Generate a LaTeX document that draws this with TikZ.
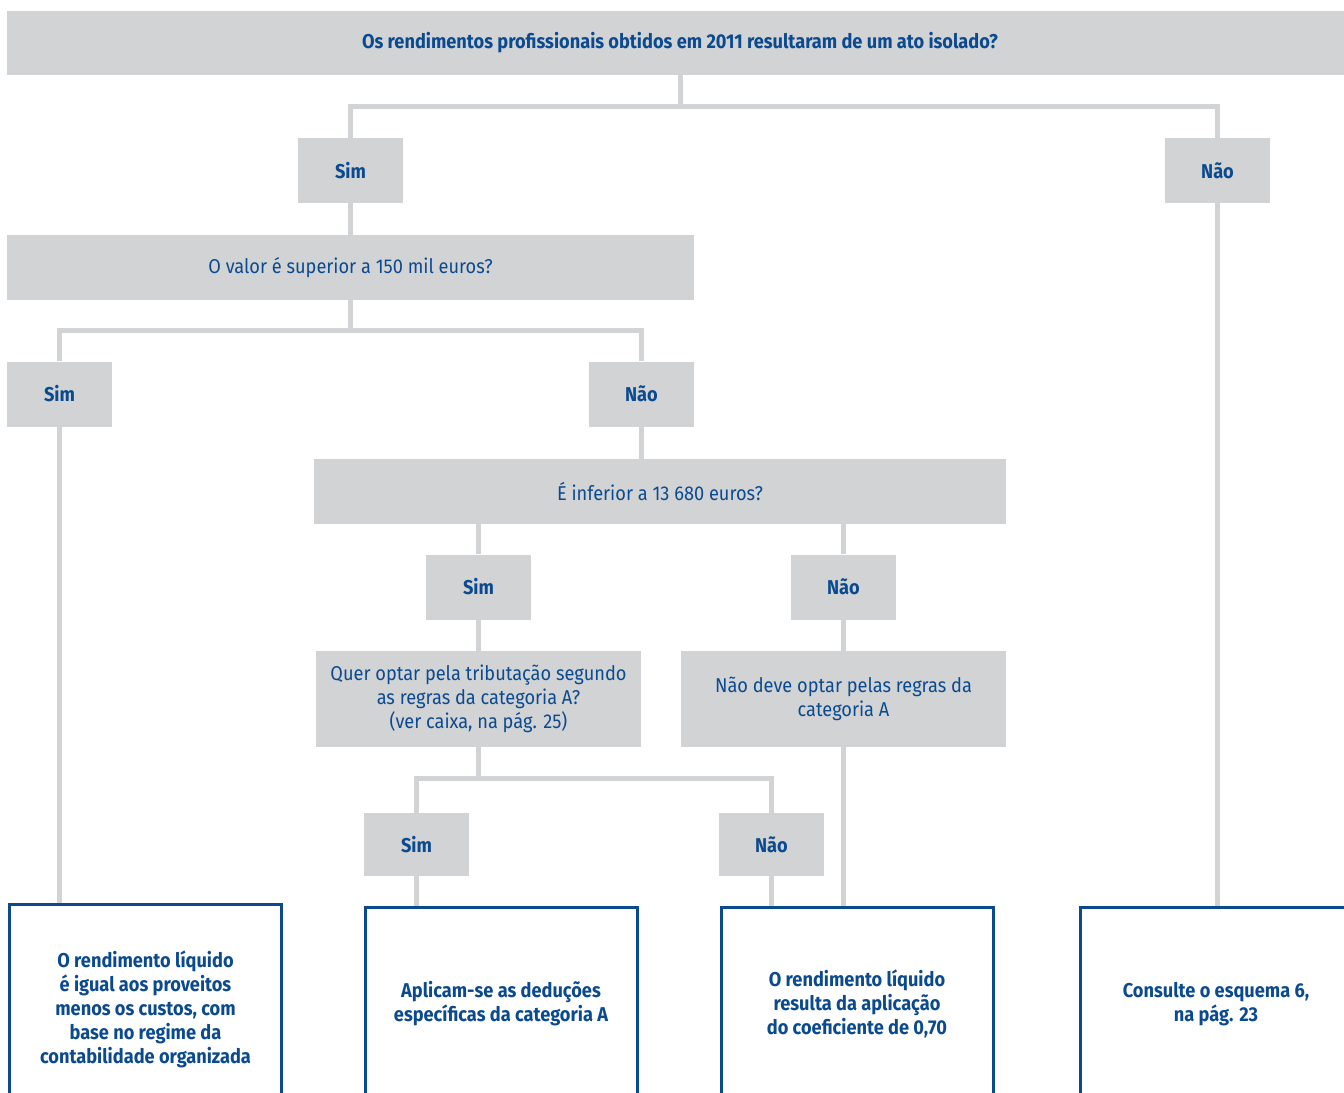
\documentclass[tikz,border=0pt]{standalone}
\usepackage{fontspec}
\setmainfont{Fira Sans}[FakeStretch=0.91]
\usetikzlibrary{backgrounds}
\definecolor{boxgray}{HTML}{D2D3D5}
\definecolor{txtblue}{HTML}{0B4A8F}
\begin{document}
\begin{tikzpicture}[x=0.75pt,y=-0.75pt,
  gbox/.style={fill=boxgray,draw=none,text=txtblue,align=center,inner sep=0pt,
    font=\fontsize{15}{18}\selectfont},
  ans/.style={gbox,font=\fontsize{15}{18}\selectfont\bfseries,minimum width=78.75pt,minimum height=48.75pt},
  endbox/.style={fill=white,draw=txtblue,line width=2.25pt,text=txtblue,align=center,inner sep=0pt,
    font=\fontsize{15}{18}\selectfont\bfseries,minimum width=204pt},
  conn/.style={draw=boxgray,line width=3.75pt,line join=miter}]
\clip (0,0) rectangle (1344,1092);
% question boxes
\node[gbox,font=\fontsize{15}{18}\selectfont\bfseries,minimum width=1009.5pt,minimum height=48pt] (top) at (680,43) {Os rendimentos profissionais obtidos em 2011 resultaram de um ato isolado?};
\node[ans] (sim1) at (350.5,170.5) {Sim};
\node[ans] (nao1) at (1217.5,170.5) {Não};
\node[gbox,minimum width=515.25pt,minimum height=48.75pt] (q2) at (350.5,267.5) {O valor é superior a 150 mil euros?};
\node[ans] (sim2) at (59.5,394) {Sim};
\node[ans] (nao2) at (641.5,394) {Não};
\node[gbox,minimum width=519pt,minimum height=48.75pt] (q3) at (660,491.5) {É inferior a 13 680 euros?};
\node[ans] (sim3) at (478.5,587) {Sim};
\node[ans] (nao3) at (843.5,587) {Não};
\node[gbox,minimum width=243.75pt,minimum height=72pt] (q4) at (478.5,699) {Quer optar pela tributação segundo\\as regras da categoria A?\\(ver caixa, na pág. 25)};
\node[gbox,minimum width=243.75pt,minimum height=72pt] (n4) at (843.5,699) {Não deve optar pelas regras da\\categoria A};
\node[ans,minimum height=47.25pt] (sim5) at (416.5,844.5) {Sim};
\node[ans,minimum height=47.25pt] (nao5) at (771.5,844.5) {Não};
% end boxes
\node[endbox,minimum height=157.5pt] (b1) at (145.5,1009) {O rendimento líquido\\é igual aos proveitos\\menos os custos, com\\base no regime da\\contabilidade organizada};
\node[endbox,minimum height=145.5pt] (b2) at (501,1004) {Aplicam-se as deduções\\específicas da categoria A};
\node[endbox,minimum height=145.5pt] (b3) at (857,1004) {O rendimento líquido\\resulta da aplicação\\do coeficiente de 0,70};
\node[endbox,minimum height=145.5pt] (b4) at (1216,1004) {Consulte o esquema 6,\\na pág. 23};
% junctions
\coordinate (j1) at (680,106);
\coordinate (j2) at (350.5,330);
\coordinate (j3) at (478.5,778);
\begin{scope}[on background layer]
\draw[conn] (top) -- (j1);
\draw[conn] (sim1) |- (j1) -| (nao1);
\draw[conn] (nao1) -- (nao1 |- b4.north);
\draw[conn] (sim1) -- (q2);
\draw[conn] (q2) -- (j2);
\draw[conn] (sim2) |- (j2) -| (nao2);
\draw[conn] (sim2) -- (sim2 |- b1.north);
\draw[conn] (nao2) -- (nao2 |- q3);
\draw[conn] (sim3) -- (sim3 |- q3);
\draw[conn] (nao3) -- (nao3 |- q3);
\draw[conn] (sim3) -- (q4);
\draw[conn] (nao3) -- (n4);
\draw[conn] (q4) -- (j3);
\draw[conn] (sim5) |- (j3) -| (nao5);
\draw[conn] (sim5) -- (sim5 |- b2.north);
\draw[conn] (nao5) -- (nao5 |- b3.north);
\draw[conn] (n4) -- (n4 |- b3.north);
\end{scope}
\end{tikzpicture}
\end{document}
